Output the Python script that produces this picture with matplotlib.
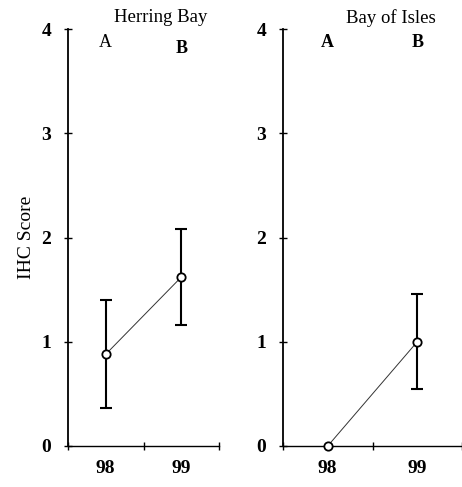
import matplotlib
matplotlib.use("Agg")
import matplotlib.pyplot as plt
import numpy as np

# data
years = ["98", "99"]
sites = ["Herring Bay", "Bay of Isles"]
means = {"Herring Bay": [0.88, 1.62], "Bay of Isles": [0.0, 1.0]}
lower = {"Herring Bay": [0.36, 1.16], "Bay of Isles": [0.0, 0.55]}
upper = {"Herring Bay": [1.40, 2.08], "Bay of Isles": [0.0, 1.46]}
groups = ["A", "B"]

plt.rcParams['font.family'] = ['Liberation Serif', 'DejaVu Serif']

W, H = 462, 487
fig = plt.figure(figsize=(W / 100, H / 100), dpi=100)

# axes boxes in pixels: (left, right)
boxes = [(68, 219), (283, 462)]
y0_px, y4_px = 446, 29
unit_px = [151 / 2, 186 / 2]
title_x = [161, 391]
grp_y = {"Herring Bay": [3.87, 3.81], "Bay of Isles": [3.87, 3.87]}
grp_w = {"Herring Bay": ["normal", "bold"], "Bay of Isles": ["bold", "bold"]}

x = np.array([0.5, 1.5])
for i, site in enumerate(sites):
    l, r = boxes[i]
    ax = fig.add_axes([l / W, (H - y0_px) / H, (r - l) / W, (y0_px - y4_px) / H])
    m = np.array(means[site])
    lo = m - np.array(lower[site])
    hi = np.array(upper[site]) - m
    ax.plot(x, m, color="#333333", lw=0.7, zorder=2)
    has_err = (lo + hi) > 0
    ax.errorbar(x[has_err], m[has_err], yerr=[lo[has_err], hi[has_err]], fmt="none",
                ecolor="black", elinewidth=1.5, capsize=4, capthick=1.5, zorder=3)
    ax.plot(x, m, "o", ms=6, mfc="white", mec="black", mew=1.3, zorder=4, clip_on=False)

    ax.set_ylim(0, 4)
    ax.set_xlim(0, (r - l) / unit_px[i])
    for s in ["top", "right"]:
        ax.spines[s].set_visible(False)
    ax.spines["left"].set_linewidth(1.3)
    ax.spines["bottom"].set_linewidth(1.0)
    ax.set_yticks([0, 1, 2, 3, 4])
    ax.set_yticklabels(["0", "1", "2", "3", "4"], fontsize=14, fontweight="bold")
    ax.tick_params(axis="y", direction="inout", length=6, width=1, pad=9)
    ax.set_xticks([0, 1, 2])
    ax.set_xticklabels([])
    ax.tick_params(axis="x", which="major", direction="inout", length=6, width=1)
    ax.set_xticks(x, minor=True)
    ax.set_xticklabels(years, minor=True, fontsize=14, fontweight="bold")
    ax.tick_params(axis="x", which="minor", length=0, pad=10)

    for j, g in enumerate(groups):
        ax.text(x[j], grp_y[site][j], g, ha="center", va="center",
                fontsize=13, fontweight=grp_w[site][j])
    fig.text(title_x[i] / W, 1 - 18 / H, site, ha="center", va="center", fontsize=13.5)

    if i == 0:
        ax.set_ylabel("IHC Score", fontsize=14, labelpad=5)

fig.savefig("out.png", dpi=100)
